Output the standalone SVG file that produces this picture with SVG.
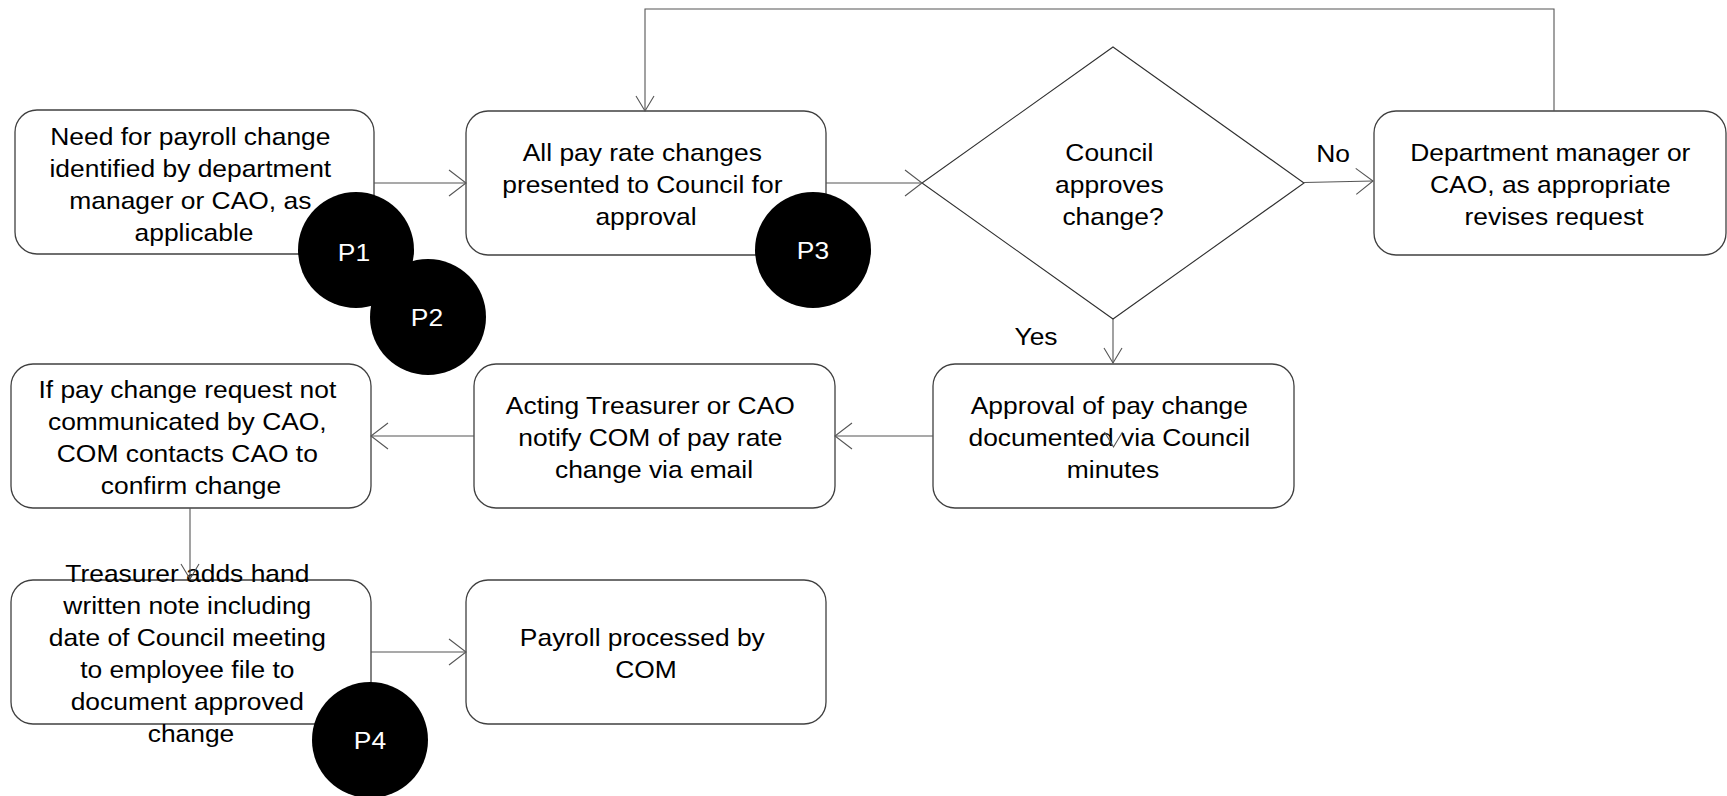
<svg xmlns="http://www.w3.org/2000/svg" width="1727" height="796" viewBox="0 0 1727 796">
  <style>
    .box { fill: #ffffff; stroke: #404040; stroke-width: 1.3; }
    .dec { fill: #ffffff; stroke: #303030; stroke-width: 1.1; }
    .lbl { font-family: "Liberation Sans", Arial, sans-serif; font-size: 24px; fill: #000000; text-anchor: middle; }
    .pin { fill: #000000; }
    .pin-t { font-family: "Liberation Sans", Arial, sans-serif; font-size: 24px; fill: #ffffff; text-anchor: middle; }
    .edge { fill: none; stroke: #555555; stroke-width: 1.1; }
    .head { fill: none; stroke: #555555; stroke-width: 1.1; }
  </style>
  <defs>
    <!-- open arrowheads: wide for horizontal runs, narrow for vertical runs -->
    <marker id="ah" markerUnits="userSpaceOnUse" markerWidth="20" markerHeight="30" refX="17" refY="13" orient="auto" overflow="visible">
      <path class="head" d="M0 0 L17 13 L0 26"/>
    </marker>
    <marker id="av" markerUnits="userSpaceOnUse" markerWidth="20" markerHeight="20" refX="15" refY="9" orient="auto" overflow="visible">
      <path class="head" d="M0 0 L15 9 L0 18"/>
    </marker>
  </defs>

  <rect width="1727" height="796" fill="#ffffff"/>

  <!-- process steps -->
  <g id="need">
    <rect class="box" x="15" y="110" width="359" height="144" rx="22" ry="22"/>
    <text class="lbl" transform="translate(194 0) scale(1.1 1)">
      <tspan x="0" y="145">Need for payroll change</tspan>
      <tspan x="0" y="177">identified by department</tspan>
      <tspan x="0" y="209">manager or CAO, as</tspan>
      <tspan x="0" y="241">applicable</tspan>
    </text>
  </g>

  <g id="present">
    <rect class="box" x="466" y="111" width="360" height="144" rx="22" ry="22"/>
    <text class="lbl" transform="translate(646 0) scale(1.1 1)">
      <tspan x="0" y="161">All pay rate changes</tspan>
      <tspan x="0" y="193">presented to Council for</tspan>
      <tspan x="0" y="225">approval</tspan>
    </text>
  </g>

  <g id="approves">
    <polygon class="dec" points="1113,47 1304,183 1113,319 922,183"/>
    <text class="lbl" transform="translate(1113 0) scale(1.1 1)">
      <tspan x="0" y="161">Council</tspan>
      <tspan x="0" y="193">approves</tspan>
      <tspan x="0" y="225">change?</tspan>
    </text>
  </g>

  <g id="revise">
    <rect class="box" x="1374" y="111" width="352" height="144" rx="22" ry="22"/>
    <text class="lbl" transform="translate(1554 0) scale(1.1 1)">
      <tspan x="0" y="161">Department manager or</tspan>
      <tspan x="0" y="193">CAO, as appropriate</tspan>
      <tspan x="0" y="225">revises request</tspan>
    </text>
  </g>

  <g id="confirm">
    <rect class="box" x="11" y="364" width="360" height="144" rx="22" ry="22"/>
    <text class="lbl" transform="translate(191 0) scale(1.1 1)">
      <tspan x="0" y="398">If pay change request not</tspan>
      <tspan x="0" y="430">communicated by CAO,</tspan>
      <tspan x="0" y="462">COM contacts CAO to</tspan>
      <tspan x="0" y="494">confirm change</tspan>
    </text>
  </g>

  <g id="notify">
    <rect class="box" x="474" y="364" width="361" height="144" rx="22" ry="22"/>
    <text class="lbl" transform="translate(654 0) scale(1.1 1)">
      <tspan x="0" y="414">Acting Treasurer or CAO</tspan>
      <tspan x="0" y="446">notify COM of pay rate</tspan>
      <tspan x="0" y="478">change via email</tspan>
    </text>
  </g>

  <g id="minutes">
    <rect class="box" x="933" y="364" width="361" height="144" rx="22" ry="22"/>
    <text class="lbl" transform="translate(1113 0) scale(1.1 1)">
      <tspan x="0" y="414">Approval of pay change</tspan>
      <tspan x="0" y="446">documented via Council</tspan>
      <tspan x="0" y="478">minutes</tspan>
    </text>
  </g>

  <g id="note">
    <rect class="box" x="11" y="580" width="360" height="144" rx="22" ry="22"/>
    <text class="lbl" transform="translate(191 0) scale(1.1 1)">
      <tspan x="0" y="582">Treasurer adds hand</tspan>
      <tspan x="0" y="614">written note including</tspan>
      <tspan x="0" y="646">date of Council meeting</tspan>
      <tspan x="0" y="678">to employee file to</tspan>
      <tspan x="0" y="710">document approved</tspan>
      <tspan x="0" y="742">change</tspan>
    </text>
  </g>

  <g id="payroll">
    <rect class="box" x="466" y="580" width="360" height="144" rx="22" ry="22"/>
    <text class="lbl" transform="translate(646 0) scale(1.1 1)">
      <tspan x="0" y="646">Payroll processed by</tspan>
      <tspan x="0" y="678">COM</tspan>
    </text>
  </g>

  <!-- connectors -->
  <g id="connectors">
    <path class="edge" d="M374 183 L466 183" marker-end="url(#ah)"/>
    <path class="edge" d="M826 183 L922 183" marker-end="url(#ah)"/>
    <path class="edge" d="M1304 182.5 L1373 181" marker-end="url(#ah)"/>
    <path class="edge" d="M1554 111 L1554 9 L645 9 L645 111" marker-end="url(#av)"/>
    <path class="edge" d="M1113 319 L1113 363" marker-end="url(#av)"/>
    <path d="M1113.5 445 L1113.5 447" stroke="none" fill="none" marker-end="url(#av)"/>
    <path class="edge" d="M933 436 L835 436" marker-end="url(#ah)"/>
    <path class="edge" d="M474 436 L371 436" marker-end="url(#ah)"/>
    <path class="edge" d="M190 508 L190 579" marker-end="url(#av)"/>
    <path class="edge" d="M371 652 L466 652" marker-end="url(#ah)"/>
    <text class="lbl" transform="translate(1333 0) scale(1.1 1)" x="0" y="162">No</text>
    <text class="lbl" transform="translate(1036 0) scale(1.1 1)" x="0" y="345">Yes</text>
  </g>

  <!-- control point markers -->
  <g id="p1">
    <circle class="pin" cx="356" cy="250" r="58"/>
    <text class="pin-t" transform="translate(354 0) scale(1.1 1)" x="0" y="261">P1</text>
  </g>
  <g id="p2">
    <circle class="pin" cx="428" cy="317" r="58"/>
    <text class="pin-t" transform="translate(427 0) scale(1.1 1)" x="0" y="326">P2</text>
  </g>
  <g id="p3">
    <circle class="pin" cx="813" cy="250" r="58"/>
    <text class="pin-t" transform="translate(813 0) scale(1.1 1)" x="0" y="259">P3</text>
  </g>
  <g id="p4">
    <circle class="pin" cx="370" cy="740" r="58"/>
    <text class="pin-t" transform="translate(370 0) scale(1.1 1)" x="0" y="749">P4</text>
  </g>
</svg>
